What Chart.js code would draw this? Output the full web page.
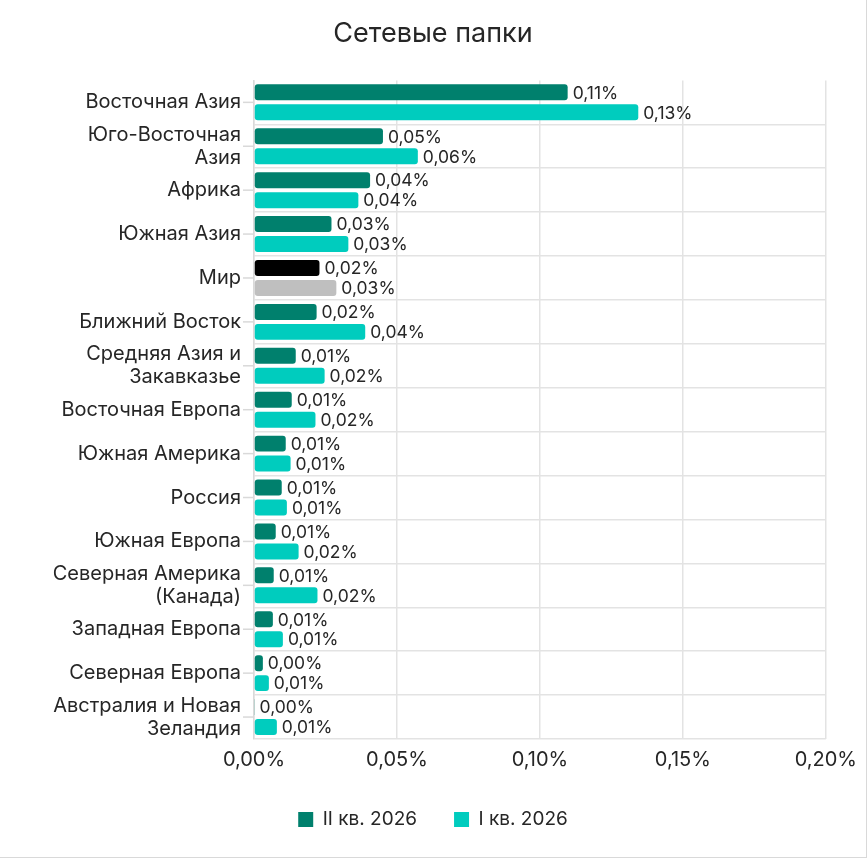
<!DOCTYPE html>
<html lang="ru">
<head>
<meta charset="utf-8">
<title>Сетевые папки</title>
<script src="https://cdn.jsdelivr.net/npm/chart.js@4.4.0/dist/chart.umd.min.js"></script>
<style>
  html, body { margin: 0; padding: 0; background: #fff; }
  #wrap {
    width: 866px; height: 857px;
    border-right: 1px solid #d9d9d9;
    border-bottom: 1px solid #d9d9d9;
  }
</style>
</head>
<body>
<div id="wrap"><canvas id="grafico" width="866" height="857"></canvas></div>
<script>
// Данные (значения в %)
const regioes = [
    'Восточная Азия',
    ['Юго-Восточная', 'Азия'],
    'Африка',
    'Южная Азия',
    'Мир',
    'Ближний Восток',
    ['Средняя Азия и', 'Закавказье'],
    'Восточная Европа',
    'Южная Америка',
    'Россия',
    'Южная Европа',
    ['Северная Америка', '(Канада)'],
    'Западная Европа',
    'Северная Европа',
    ['Австралия и Новая', 'Зеландия']
];
const kv2 = [0.1097, 0.0451, 0.0406, 0.0271, 0.0229, 0.0219, 0.0146, 0.0132, 0.0111, 0.0097, 0.0076, 0.0069, 0.0066, 0.0031, 0.0002];
const kv1 = [0.1344, 0.0573, 0.0365, 0.0330, 0.0288, 0.0389, 0.0247, 0.0215, 0.0128, 0.0115, 0.0156, 0.0222, 0.0101, 0.0052, 0.0080];
const ticksX = [0, 0.05, 0.10, 0.15, 0.20];

const indiceMir = 4;
const fonte = 'Inter, "Noto Sans", sans-serif';

function fmt(v) {
    return v.toFixed(2).replace('.', ',') + '%';
}

// Подписи значений справа от столбцов
const rotulos = {
    id: 'rotulos',
    afterDatasetsDraw(chart) {
        const ctx = chart.ctx;
        ctx.save();
        ctx.font = '17.5px ' + fonte;
        ctx.fillStyle = '#262626';
        ctx.textBaseline = 'middle';
        ctx.textAlign = 'left';
        chart.data.datasets.forEach((ds, i) => {
            chart.getDatasetMeta(i).data.forEach((bar, j) => {
                ctx.fillText(fmt(ds.data[j]), bar.x + 5, bar.y + 1);
            });
        });
        ctx.restore();
    }
};

// Короткие риски по центру категорий
const riscos = {
    id: 'riscos',
    afterDraw(chart) {
        const y = chart.scales.y;
        const ctx = chart.ctx;
        ctx.save();
        ctx.strokeStyle = '#d9d9d9';
        ctx.lineWidth = 1.5;
        regioes.forEach((_, i) => {
            const py = y.getPixelForValue(i);
            ctx.beginPath();
            ctx.moveTo(y.right - 11, py);
            ctx.lineTo(y.right, py);
            ctx.stroke();
        });
        ctx.restore();
    }
};

const ctx = document.getElementById('grafico').getContext('2d');
const grafico = new Chart(ctx, {
    type: 'bar',
    data: {
        labels: regioes,
        datasets: [
            {
                label: 'II кв. 2026',
                data: kv2,
                backgroundColor: c => c.dataIndex === indiceMir ? '#000000' : '#00806d',
                borderRadius: 3,
                borderSkipped: false,
                barPercentage: 0.8,
                categoryPercentage: 0.91
            },
            {
                label: 'I кв. 2026',
                data: kv1,
                backgroundColor: c => c.dataIndex === indiceMir ? '#bfbfbf' : '#00ccbe',
                borderRadius: 3,
                borderSkipped: false,
                barPercentage: 0.8,
                categoryPercentage: 0.91
            }
        ]
    },
    options: {
        indexAxis: 'y',
        responsive: false,
        animation: false,
        layout: { padding: { left: 37, right: 37, bottom: 18, top: 0 } },
        plugins: {
            title: {
                display: true,
                text: 'Сетевые папки',
                color: '#262626',
                font: { family: fonte, size: 27, weight: 'normal' },
                padding: { top: 18, bottom: 30 }
            },
            legend: {
                position: 'bottom',
                labels: {
                    color: '#262626',
                    font: { family: fonte, size: 19 },
                    boxWidth: 15,
                    boxHeight: 15,
                    padding: 37
                }
            },
            tooltip: { enabled: false }
        },
        scales: {
            x: {
                min: 0,
                max: 0.2,
                afterBuildTicks: s => { s.ticks = ticksX.map(v => ({ value: v })); },
                afterFit: s => { s.height -= 8; },
                ticks: {
                    callback: v => fmt(v),
                    color: '#262626',
                    font: { family: fonte, size: 20 },
                    padding: 9,
                    maxRotation: 0
                },
                grid: { color: '#e3e3e3', lineWidth: 1.5, drawTicks: false },
                border: { display: false }
            },
            y: {
                afterFit: s => { s.width = 254 - 37; },
                ticks: {
                    autoSkip: false,
                    color: '#262626',
                    font: { family: fonte, size: 20, lineHeight: 1.15 },
                    padding: 13
                },
                grid: {
                    offset: true,
                    drawTicks: false,
                    lineWidth: 1.5,
                    color: c => c.index === 0 ? 'rgba(0,0,0,0)' : '#e3e3e3'
                },
                border: { color: '#d9d9d9', width: 1.5 }
            }
        }
    },
    plugins: [rotulos, riscos]
});
</script>
</body>
</html>
